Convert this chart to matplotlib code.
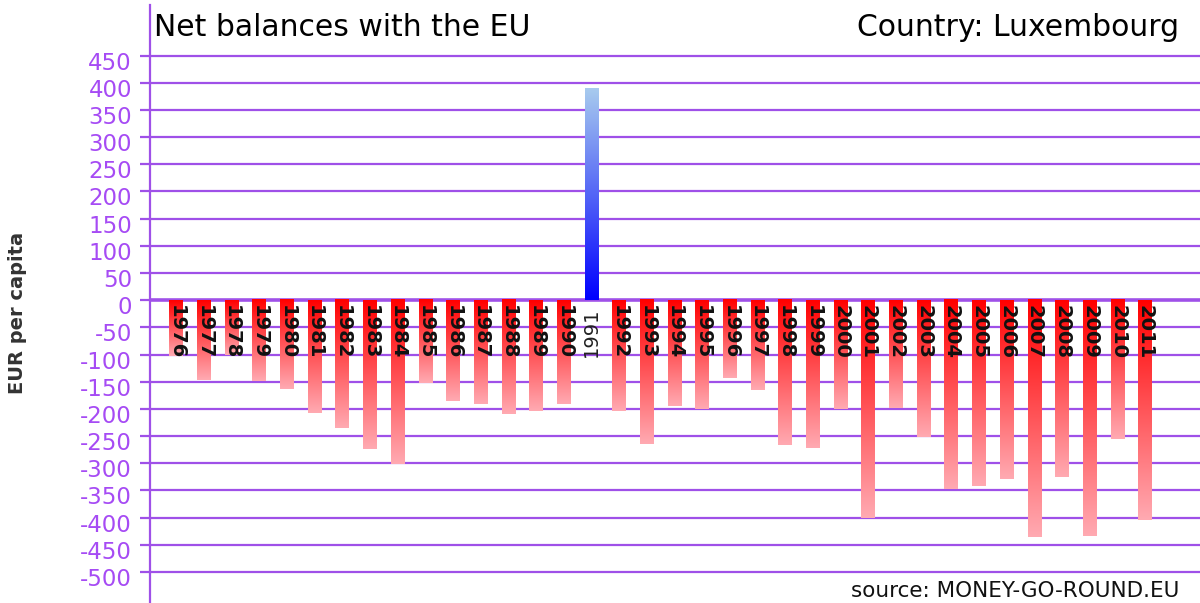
import matplotlib
matplotlib.use("Agg")
from matplotlib import pyplot as plt
from matplotlib.colors import LinearSegmentedColormap
import matplotlib.transforms as mtransforms
import numpy as np

years = list(range(1976, 2012))
values = [-103, -146, -100, -149, -164, -207, -236, -274, -302, -153,
          -185, -191, -210, -204, -191, 389, -204, -265, -194, -200,
          -144, -165, -267, -271, -200, -401, -198, -252, -348, -341,
          -329, -436, -325, -434, -256, -404]
yticks = list(range(-500, 451, 50))

grid_col = "#9f50e8"
tick_col = "#a64bf4"

# gradients: red at zero -> pink at the end, blue at zero -> light blue at top
neg_cmap = LinearSegmentedColormap.from_list("neg", ["#ff0000", "#ffaab2"])
pos_cmap = LinearSegmentedColormap.from_list("pos", ["#0000ff", "#a8cbee"])

fig = plt.figure(figsize=(12, 6.03), dpi=100)
ax = fig.add_axes([0.125, 0.0, 0.875, 598 / 603])

x = np.arange(len(years))
w = 0.5
grad = np.linspace(0, 1, 256).reshape(-1, 1)
for xi, v in zip(x, values):
    if v < 0:
        ax.imshow(grad, cmap=neg_cmap, aspect="auto", origin="upper",
                  extent=[xi - w / 2, xi + w / 2, v, 0], zorder=3)
    else:
        ax.imshow(grad, cmap=pos_cmap, aspect="auto", origin="lower",
                  extent=[xi - w / 2, xi + w / 2, 0, v], zorder=3)

for xi, yr, v in zip(x, years, values):
    if v < 0:
        ax.text(xi, -8, str(yr), rotation=-90, ha="center", va="top",
                fontsize=14, fontweight="bold", color="#111111", zorder=4)
    else:
        ax.text(xi, -14, str(yr), rotation=90, ha="center", va="top",
                fontsize=14, color="#222222", zorder=4)

ax.set_xlim(-0.95, 36.98)
ax.set_ylim(-557, 543)
ax.set_yticks(yticks)
ax.set_yticklabels([str(t) for t in yticks])
ax.set_xticks([])
for t in yticks:
    ax.axhline(t, color=grid_col, lw=2.6 if t == 0 else 1.6, zorder=2)

for s in ["top", "right", "bottom"]:
    ax.spines[s].set_visible(False)
ax.spines["left"].set_color(grid_col)
ax.spines["left"].set_linewidth(1.6)
ax.tick_params(axis="y", colors=grid_col, length=7, width=1.6,
               labelsize=16.5, labelcolor=tick_col, pad=6)
off = mtransforms.ScaledTranslation(0, -5 / 100, fig.dpi_scale_trans)
for lbl in ax.get_yticklabels():
    lbl.set_transform(lbl.get_transform() + off)

ax.text(0.004, 0.987, "Net balances with the EU", transform=ax.transAxes,
        ha="left", va="top", fontsize=21.5, color="black")
ax.text(0.98, 0.987, "Country: Luxembourg", transform=ax.transAxes,
        ha="right", va="top", fontsize=21.5, color="black")
ax.text(0.98, 0.004, "source: MONEY-GO-ROUND.EU", transform=ax.transAxes,
        ha="right", va="bottom", fontsize=15.5, color="#111111")
fig.text(0.015, 0.481, "EUR per capita", rotation=90, ha="center", va="center",
         fontsize=14, fontweight="bold", color="#333333")

fig.savefig("out.png", dpi=100)
